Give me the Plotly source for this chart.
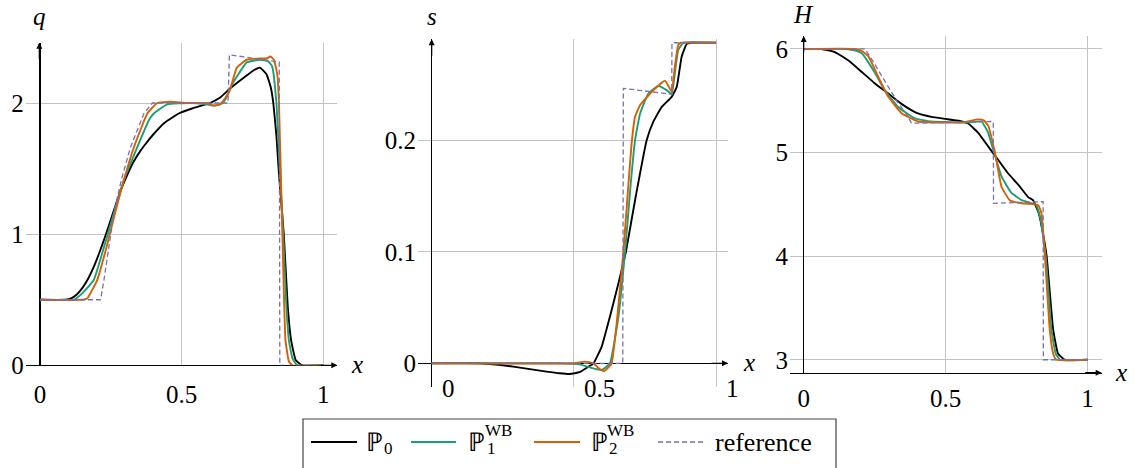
import plotly.graph_objects as go

# ---------------- data ----------------
# Panel 1: q
q_x_p0 = [0.0, 0.09, 0.11, 0.13, 0.15, 0.17, 0.19, 0.21, 0.23, 0.25, 0.27, 0.29, 0.31, 0.33, 0.35, 0.37,
          0.40, 0.44, 0.49, 0.54, 0.60, 0.635, 0.671, 0.724, 0.755, 0.777, 0.80, 0.815, 0.824, 0.835,
          0.844, 0.861, 0.875, 0.887, 0.903, 0.926, 1.0]
q_p0 = [0.5, 0.5, 0.51, 0.54, 0.59, 0.66, 0.75, 0.86, 0.98, 1.11, 1.24, 1.36, 1.46, 1.55, 1.62, 1.68,
        1.76, 1.85, 1.92, 1.96, 2.0, 2.04, 2.11, 2.2, 2.25, 2.27, 2.22, 2.12, 2.0, 1.75,
        1.46, 1.0, 0.45, 0.19, 0.04, 0.0, 0.0]
q_x_p1 = [0.0, 0.12, 0.15, 0.19, 0.226, 0.261, 0.296, 0.344, 0.385, 0.402, 0.449, 0.53, 0.589,
          0.62, 0.645, 0.66, 0.678, 0.695, 0.73, 0.777, 0.805, 0.82, 0.835, 0.847, 0.859, 0.869, 0.879,
          0.892, 0.909, 1.0]
q_p1 = [0.5, 0.5, 0.55, 0.65, 0.9, 1.16, 1.41, 1.665, 1.87, 1.92, 1.99, 2.0, 1.99,
        1.98, 2.0, 2.05, 2.14, 2.2, 2.31, 2.33, 2.32, 2.28, 2.0, 1.5, 1.0, 0.5, 0.19,
        0.05, 0.0, 0.0]
q_x_p2 = [0.0, 0.15, 0.167, 0.202, 0.235, 0.265, 0.296, 0.332, 0.379, 0.414, 0.46, 0.52, 0.59, 0.61,
          0.636, 0.655, 0.671, 0.695, 0.73, 0.777, 0.80, 0.814, 0.826, 0.838, 0.844, 0.856, 0.867, 0.879,
          0.891, 1.0]
q_p2 = [0.5, 0.5, 0.51, 0.65, 0.9, 1.16, 1.41, 1.665, 1.92, 2.0, 2.01, 2.0, 2.0, 1.98,
        1.99, 2.04, 2.1, 2.27, 2.33, 2.34, 2.34, 2.355, 2.33, 2.22, 2.0, 1.0, 0.19, 0.03,
        0.0, 0.0]
q_x_ref = [0.0, 0.214, 0.226, 0.243, 0.261, 0.287, 0.32, 0.367, 0.397, 0.664, 0.669, 0.845, 0.847, 1.0]
q_ref = [0.5, 0.5, 0.65, 0.9, 1.16, 1.41, 1.665, 1.92, 2.0, 2.0, 2.368, 2.312, 0.0, 0.0]

# Panel 2: s
s_x_p0 = [0.0, 0.17, 0.287, 0.404, 0.45, 0.486, 0.52, 0.545, 0.569, 0.598, 0.627, 0.657, 0.683, 0.715,
          0.756, 0.7795, 0.809, 0.844, 0.862, 0.879, 0.897, 0.915, 1.0]
s_p0 = [0.0, 0.0, -0.003, -0.0075, -0.009, -0.0096, -0.008, -0.004, 0.0, 0.015, 0.042, 0.072, 0.1, 0.146,
        0.200, 0.2167, 0.230, 0.239, 0.248, 0.275, 0.2865, 0.2875, 0.2875]
s_x_p1 = [0.0, 0.45, 0.52, 0.56, 0.598, 0.627, 0.657, 0.68, 0.70, 0.715, 0.733, 0.762, 0.797, 0.826,
          0.844, 0.855, 0.867, 0.885, 1.0]
s_p1 = [0.0, 0.0, -0.001, -0.004, -0.006, 0.0, 0.042, 0.1, 0.161, 0.200, 0.224, 0.242, 0.2487, 0.245,
        0.2413, 0.26, 0.281, 0.2875, 0.2875]
s_x_p2 = [0.0, 0.50, 0.539, 0.569, 0.59, 0.606, 0.62, 0.633, 0.653, 0.674, 0.692, 0.703, 0.715, 0.733,
          0.774, 0.8206, 0.844, 0.855, 0.867, 0.876, 1.0]
s_p2 = [0.0, 0.0, 0.0015, 0.0, -0.005, -0.0069, -0.004, 0.0, 0.042, 0.1, 0.161, 0.197, 0.221, 0.2317,
        0.2436, 0.2535, 0.2436, 0.266, 0.2855, 0.2875, 0.2875]
s_x_ref = [0.0, 0.672, 0.674, 0.844, 0.845, 1.0]
s_ref = [0.0, 0.0, 0.2466, 0.2413, 0.2875, 0.2875]

# Panel 3: H
H_x_p0 = [0.0, 0.063, 0.11, 0.157, 0.204, 0.25, 0.298, 0.35, 0.40, 0.45, 0.50, 0.55, 0.58, 0.615,
          0.65, 0.685, 0.72, 0.756, 0.791, 0.808, 0.829, 0.841, 0.856, 0.879, 0.896, 0.92, 1.0]
H_p0 = [6.0, 6.0, 5.97, 5.89, 5.78, 5.67, 5.57, 5.46, 5.38, 5.345, 5.325, 5.305, 5.28, 5.19,
        5.06, 4.93, 4.80, 4.69, 4.57, 4.54, 4.41, 4.25, 4.0, 3.29, 3.06, 3.0, 3.0]
H_x_p1 = [0.0, 0.146, 0.175, 0.204, 0.251, 0.286, 0.333, 0.392, 0.45, 0.58, 0.627, 0.65, 0.671, 0.697,
          0.732, 0.768, 0.803, 0.82, 0.835, 0.853, 0.873, 0.888, 0.9025, 1.0]
H_p1 = [6.0, 6.0, 5.99, 5.96, 5.77, 5.6, 5.44, 5.33, 5.30, 5.29, 5.30, 5.19, 5.0, 4.77,
        4.61, 4.54, 4.51, 4.49, 4.35, 4.0, 3.29, 3.06, 3.0, 3.0]
H_x_p2 = [0.0, 0.181, 0.205, 0.228, 0.263, 0.298, 0.345, 0.404, 0.556, 0.615, 0.635, 0.65, 0.674, 0.697,
          0.726, 0.768, 0.815, 0.827, 0.838, 0.85, 0.867, 0.879, 0.89, 1.0]
H_p2 = [6.0, 6.0, 5.98, 5.93, 5.73, 5.54, 5.38, 5.30, 5.29, 5.32, 5.31, 5.26, 5.0, 4.67,
        4.54, 4.51, 4.50, 4.49, 4.41, 4.0, 3.29, 3.06, 3.0, 3.0]
H_x_ref = [0.0, 0.216, 0.24, 0.27, 0.30, 0.33, 0.36, 0.38, 0.668, 0.669, 0.8437, 0.8445, 1.0]
H_ref = [6.0, 6.0, 5.9, 5.76, 5.62, 5.49, 5.38, 5.283, 5.30, 4.51, 4.526, 3.0, 3.0]

# ticks and labels
x_ticks = [0, 0.5, 1]
x_tick_text = ["0", "0.5", "1"]
q_ticks = [0, 1, 2]
s_ticks = [0, 0.1, 0.2]
H_ticks = [3, 4, 5, 6]
panel_ylabels = ["q", "s", "H"]
legend_main = ["ℙ", "ℙ", "ℙ", "reference"]
legend_sub = ["0", "1", "2", ""]
legend_sup = ["", "WB", "WB", ""]

# ---------------- styling ----------------
FONT = "Liberation Serif"
COLORS = ["#000000", "#1b9e77", "#d95f02", "#7570b3"]
GRID = "rgb(195,195,195)"
W, H = 1135, 468
FS = 25


def px(v):
    return v / W


def py(v):
    return 1 - v / H


fig = go.Figure()

panels = [
    ("x", "y", [(q_x_p0, q_p0), (q_x_p1, q_p1), (q_x_p2, q_p2), (q_x_ref, q_ref)]),
    ("x2", "y2", [(s_x_p0, s_p0), (s_x_p1, s_p1), (s_x_p2, s_p2), (s_x_ref, s_ref)]),
    ("x3", "y3", [(H_x_p0, H_p0), (H_x_p1, H_p1), (H_x_p2, H_p2), (H_x_ref, H_ref)]),
]

for pi, (xa, ya, series) in enumerate(panels):
    for si, (xs, ys) in enumerate(series):
        is_ref = si == 3
        fig.add_trace(go.Scatter(
            x=xs, y=ys, xaxis=xa, yaxis=ya, mode="lines", showlegend=False, hoverinfo="skip",
            line=dict(color=COLORS[si], width=1.3 if is_ref else 1.9,
                      dash="5px,3px" if is_ref else "solid",
                      shape="linear" if is_ref else "spline",
                      smoothing=0 if is_ref else 0.35),
        ))

# panel frames in pixels (left, right, top, bottom)
frames = [(25.8, 337.3, 42.7, 365.3), (418, 728, 39.3, 386.7), (790, 1101.7, 36, 372.7)]
xr = [[-0.05, 1.05], [-0.048, 1.042], [-0.048, 1.05]]
yr = [[0, 2.46], [-0.021, 0.2906], [2.875, 6.125]]
yticks = [q_ticks, s_ticks, H_ticks]
xstandoff = [12, 6, 3]

tickfont = dict(family=FONT, size=FS, color="black")
layout = dict(
    width=W, height=H, autosize=False,
    margin=dict(l=0, r=0, t=0, b=0, pad=0, autoexpand=False),
    paper_bgcolor="white", plot_bgcolor="white",
    showlegend=False,
    font=dict(family=FONT, size=FS, color="black"),
)
for i in range(3):
    sx = "" if i == 0 else str(i + 1)
    l, r, t, b = frames[i]
    layout["xaxis" + sx] = dict(
        domain=[px(l), px(r)], range=xr[i], anchor="y" + sx, tickvals=x_ticks, ticktext=x_tick_text,
        showticklabels=(i != 1), tickfont=tickfont, ticks="", ticklabelstandoff=xstandoff[i],
        showgrid=True, gridcolor=GRID, automargin=False,
        gridwidth=1, zeroline=True, zerolinecolor="black", zerolinewidth=1.2,
        showline=(i == 2), linecolor="black", linewidth=1.2, fixedrange=True,
    )
    layout["yaxis" + sx] = dict(
        domain=[py(b), py(t)], range=yr[i], anchor="x" + sx, tickvals=yticks[i], tickfont=tickfont,
        ticks="", ticklabelstandoff=1, showgrid=True, gridcolor=GRID, gridwidth=1, automargin=False,
        zeroline=(i != 2), zerolinecolor="black", zerolinewidth=1.2, showline=False, fixedrange=True,
    )
fig.update_layout(**layout)

ann = []
shapes = []
# pixel position of the x-axis line and the y-axis line of each panel
xaxis_y = [365.3, 363.3, 372.7]
yaxis_x = [39.3, 431.7, 803.7]
xlab_pos = [(349, 364), (741, 362), (1113, 372)]
ylab_pos = [(39.3, 17), (431.7, 17), (803.7, 15)]
for i in range(3):
    l, r, t, b = frames[i]
    ann.append(dict(x=px(r), y=py(xaxis_y[i]), xref="paper", yref="paper", ax=-18, ay=0,
                    text="", showarrow=True, arrowhead=2, arrowsize=1,
                    arrowwidth=1.2, arrowcolor="black"))
    ann.append(dict(x=px(yaxis_x[i]), y=py(t), xref="paper", yref="paper", ax=0, ay=18,
                    text="", showarrow=True, arrowhead=2, arrowsize=1,
                    arrowwidth=1.2, arrowcolor="black"))
    ann.append(dict(x=px(xlab_pos[i][0]), y=py(xlab_pos[i][1]), xref="paper", yref="paper",
                    text="<i>x</i>", showarrow=False, xanchor="left", yanchor="middle",
                    font=dict(family=FONT, size=FS, color="black")))
    ann.append(dict(x=px(ylab_pos[i][0]), y=py(ylab_pos[i][1]), xref="paper", yref="paper",
                    text="<i>%s</i>" % panel_ylabels[i], showarrow=False,
                    xanchor="center", yanchor="middle",
                    font=dict(family=FONT, size=FS, color="black")))

# panel 2 x tick labels (to the right of the ticks, as in the reference)
for v, t in zip(x_ticks, x_tick_text):
    ann.append(dict(x=v, y=yr[1][0], xref="x2", yref="y2", text=t, showarrow=False,
                    xanchor="left", yanchor="middle", xshift=8, yshift=-2, font=tickfont))

# legend (frame, line samples and labels)
shapes.append(dict(type="rect", xref="paper", yref="paper", x0=px(303), x1=px(836),
                   y0=-0.1, y1=py(419), line=dict(color="#444444", width=1.2),
                   fillcolor="rgba(0,0,0,0)"))
leg_lines = [(311, 357), (411, 456), (534, 580), (658, 705)]
leg_main_x = [364, 466, 589, 713]
leg_sub_x = [382, 485, 607, 0]
leg_sup_x = [0, 483, 605, 0]
LY = 442
for k in range(4):
    shapes.append(dict(type="line", xref="paper", yref="paper", x0=px(leg_lines[k][0]),
                       x1=px(leg_lines[k][1]), y0=py(LY), y1=py(LY),
                       line=dict(color=COLORS[k], width=1.3 if k == 3 else 1.9,
                                 dash="5px,3px" if k == 3 else "solid")))
    ann.append(dict(x=px(leg_main_x[k]), y=py(LY), xref="paper", yref="paper", text=legend_main[k],
                    showarrow=False, xanchor="left", yanchor="middle",
                    font=dict(family=FONT, size=26, color="black")))
    if legend_sub[k]:
        ann.append(dict(x=px(leg_sub_x[k]), y=py(448), xref="paper", yref="paper", text=legend_sub[k],
                        showarrow=False, xanchor="left", yanchor="middle",
                        font=dict(family=FONT, size=17, color="black")))
    if legend_sup[k]:
        ann.append(dict(x=px(leg_sup_x[k]), y=py(430), xref="paper", yref="paper", text=legend_sup[k],
                        showarrow=False, xanchor="left", yanchor="middle",
                        font=dict(family=FONT, size=17, color="black")))

fig.update_layout(annotations=ann, shapes=shapes)
fig.write_html(
    "out.html",
    config={"displayModeBar": False, "responsive": False, "staticPlot": True},
    post_script=("document.body.style.margin='0px';"
                 "document.body.style.overflow='hidden';"
                 "document.documentElement.style.overflow='hidden';"),
)
